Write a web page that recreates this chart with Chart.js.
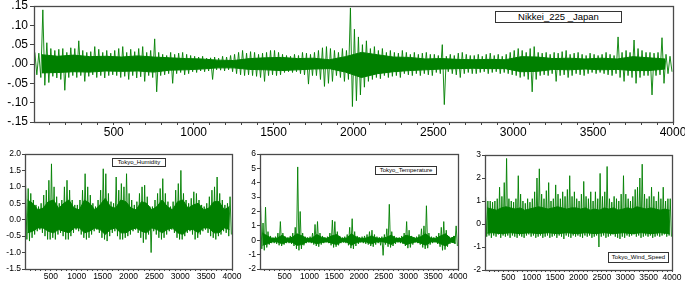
<!DOCTYPE html>
<html><head><meta charset="utf-8">
<script src="https://cdn.jsdelivr.net/npm/chart.js@4.4.1/dist/chart.umd.min.js"></script>
<style>
html,body{margin:0;padding:0;background:#fff;overflow:hidden;width:685px;height:283px;position:relative;}
canvas{position:absolute;}
.lg{position:absolute;border:1px solid #333;background:#fff;font-family:"Liberation Sans",Arial,sans-serif;color:#000;text-align:center;box-sizing:border-box;white-space:pre;}
</style></head><body>
<canvas id="c0" width="690" height="140" style="left:0;top:0"></canvas>
<canvas id="c1" width="250" height="138" style="left:0;top:145px"></canvas>
<canvas id="c2" width="240" height="138" style="left:236px;top:145px"></canvas>
<canvas id="c3" width="228" height="138" style="left:462px;top:145px"></canvas>
<div class="lg" style="left:495px;top:11px;width:127px;height:12px;font-size:9.5px;line-height:10px">Nikkei_225 _Japan</div>
<div class="lg" style="left:112px;top:158px;width:54px;height:9px;font-size:6px;line-height:7px">Tokyo_Humidity</div>
<div class="lg" style="left:375px;top:166px;width:62px;height:9px;font-size:6px;line-height:7px">Tokyo_Temperature</div>
<div class="lg" style="left:608px;top:252px;width:61px;height:11px;font-size:6px;line-height:9px">Tokyo_Wind_Speed</div>
<script>
// ---- data: per-bin high / low envelope (outer spikes) ----
const nikkeiBin = 25;
const nikkeiHi = [
0.030,0.028,0.140,0.055,0.040,0.035,0.038,0.040,0.030,0.042,
0.040,0.060,0.035,0.030,0.032,0.045,0.038,0.030,0.035,0.028,
0.035,0.040,0.045,0.030,0.038,0.032,0.040,0.045,0.030,0.035,
0.065,0.030,0.025,0.022,0.030,0.025,0.028,0.030,0.025,0.022,
0.020,0.018,0.020,0.015,0.016,0.018,0.015,0.020,0.018,0.022,
0.025,0.030,0.035,0.028,0.032,0.030,0.025,0.028,0.030,0.035,
0.035,0.030,0.025,0.022,0.020,0.025,0.022,0.030,0.028,0.025,
0.030,0.035,0.042,0.045,0.040,0.035,0.030,0.040,0.035,0.145,
0.090,0.070,0.050,0.060,0.040,0.045,0.035,0.040,0.030,0.035,
0.030,0.028,0.035,0.030,0.025,0.030,0.025,0.028,0.030,0.025,
0.025,0.022,0.050,0.020,0.025,0.022,0.028,0.030,0.025,0.022,
0.022,0.025,0.020,0.025,0.028,0.022,0.025,0.020,0.025,0.030,
0.035,0.040,0.035,0.030,0.040,0.045,0.030,0.028,0.030,0.025,
0.030,0.028,0.032,0.035,0.025,0.028,0.030,0.025,0.022,0.028,
0.025,0.022,0.025,0.030,0.025,0.022,0.070,0.030,0.035,0.030,
0.062,0.040,0.035,0.030,0.030,0.028,0.030,0.068,0.025,0.020];
const nikkeiLo = [
-0.028,-0.035,-0.055,-0.048,-0.032,-0.036,-0.040,-0.068,-0.035,-0.030,
-0.035,-0.030,-0.045,-0.032,-0.028,-0.035,-0.030,-0.036,-0.030,-0.028,
-0.030,-0.035,-0.032,-0.040,-0.030,-0.036,-0.033,-0.045,-0.030,-0.035,
-0.072,-0.030,-0.028,-0.025,-0.050,-0.025,-0.022,-0.028,-0.025,-0.020,
-0.022,-0.018,-0.020,-0.018,-0.040,-0.015,-0.016,-0.018,-0.015,-0.020,
-0.025,-0.028,-0.030,-0.028,-0.030,-0.032,-0.035,-0.045,-0.030,-0.028,
-0.030,-0.028,-0.022,-0.020,-0.022,-0.020,-0.025,-0.028,-0.052,-0.030,
-0.030,-0.040,-0.058,-0.050,-0.045,-0.030,-0.035,-0.045,-0.040,-0.110,
-0.095,-0.080,-0.060,-0.045,-0.040,-0.035,-0.038,-0.030,-0.035,-0.032,
-0.030,-0.035,-0.025,-0.028,-0.030,-0.025,-0.030,-0.025,-0.028,-0.030,
-0.022,-0.025,-0.105,-0.020,-0.025,-0.028,-0.035,-0.025,-0.022,-0.025,
-0.025,-0.022,-0.020,-0.025,-0.022,-0.020,-0.025,-0.022,-0.025,-0.028,
-0.030,-0.035,-0.032,-0.040,-0.072,-0.040,-0.030,-0.028,-0.030,-0.025,
-0.045,-0.030,-0.028,-0.035,-0.030,-0.025,-0.028,-0.030,-0.025,-0.022,
-0.025,-0.022,-0.025,-0.028,-0.030,-0.025,-0.035,-0.045,-0.030,-0.035,
-0.050,-0.035,-0.030,-0.030,-0.080,-0.030,-0.028,-0.050,-0.025,-0.020];
// dense core band, 100-unit bins
const coreBin = 100;
const nikkeiCoreHi = [
0.024,0.020,0.023,0.019,0.020,0.018,0.021,0.018,0.016,0.014,
0.013,0.010,0.009,0.014,0.016,0.017,0.014,0.015,0.011,0.019,
0.030,0.024,0.018,0.017,0.013,0.014,0.012,0.011,0.012,0.011,
0.019,0.018,0.014,0.015,0.013,0.015,0.013,0.019,0.016,0.013];
const nikkeiCoreLo = [
-0.023,-0.022,-0.020,-0.021,-0.018,-0.019,-0.018,-0.021,-0.016,-0.015,
-0.013,-0.010,-0.010,-0.014,-0.015,-0.017,-0.015,-0.013,-0.012,-0.021,
-0.035,-0.025,-0.020,-0.017,-0.015,-0.013,-0.012,-0.011,-0.012,-0.012,
-0.020,-0.019,-0.014,-0.015,-0.013,-0.015,-0.014,-0.017,-0.017,-0.013];

const tokyoBin = 50;
const humidHi = [
1.05,0.95,0.8,0.6,0.45,0.4,0.5,0.75,0.9,1.2,
1.7,1.0,0.7,0.5,0.6,1.0,1.2,0.9,0.6,0.45,
0.45,0.6,0.9,1.4,1.0,0.75,0.5,0.4,0.6,0.9,
1.55,1.4,0.8,0.55,0.5,1.3,0.9,1.1,1.0,1.4,
0.8,0.6,0.45,0.55,0.8,1.0,1.05,0.7,0.4,0.4,
0.6,0.8,0.95,1.25,0.8,0.55,0.4,0.55,0.9,1.1,
1.5,0.8,0.6,0.5,0.65,0.85,0.8,0.6,0.45,0.4,
0.5,0.7,0.9,1.0,1.3,0.8,0.6,0.45,0.5,0.7];
const humidLo = [
-0.6,-0.65,-0.55,-0.45,-0.35,-0.3,-0.4,-0.5,-0.6,-0.6,
-0.55,-0.6,-0.45,-0.4,-0.5,-0.6,-0.6,-0.5,-0.4,-0.3,
-0.35,-0.45,-0.55,-0.6,-0.55,-0.45,-0.35,-0.3,-0.4,-0.55,
-0.6,-0.65,-0.5,-0.4,-0.35,-0.5,-0.6,-0.6,-0.55,-0.5,
-0.45,-0.35,-0.3,-0.4,-0.55,-0.7,-0.6,-0.45,-1.0,-0.35,
-0.45,-0.55,-0.6,-0.55,-0.45,-0.35,-0.3,-0.4,-0.55,-0.6,
-0.6,-0.5,-0.4,-0.35,-0.45,-0.6,-0.55,-0.45,-0.35,-0.3,
-0.4,-0.5,-0.55,-0.6,-0.5,-0.45,-0.35,-0.4,-0.5,-0.45];
const humidCoreHi = [
0.6,0.5,0.3,0.35,0.55,0.6,0.35,0.5,0.6,0.35,
0.3,0.6,0.5,0.3,0.45,0.65,0.4,0.35,0.6,0.55,
0.35,0.3,0.55,0.5,0.3,0.4,0.6,0.4,0.3,0.55,
0.6,0.35,0.45,0.5,0.3,0.35,0.55,0.55,0.3,0.4];
const humidCoreLo = [
-0.4,-0.35,-0.25,-0.25,-0.35,-0.4,-0.3,-0.35,-0.4,-0.25,
-0.25,-0.4,-0.35,-0.25,-0.3,-0.45,-0.3,-0.25,-0.4,-0.4,
-0.3,-0.25,-0.35,-0.4,-0.25,-0.3,-0.4,-0.3,-0.25,-0.4,
-0.45,-0.3,-0.3,-0.4,-0.25,-0.25,-0.4,-0.4,-0.25,-0.3];

const tempHi = [
2.4,1.2,2.3,0.6,0.3,0.2,0.25,0.5,1.3,0.5,
0.25,0.2,0.3,0.5,0.9,5.1,2.0,0.5,0.25,0.2,
0.25,0.5,1.1,1.3,0.5,0.3,0.2,0.25,0.5,1.4,
1.3,0.6,0.3,0.2,0.25,0.4,0.9,1.5,0.6,0.3,
0.2,0.25,0.3,0.4,0.6,0.7,0.4,0.25,0.2,0.25,
0.4,0.8,2.5,0.6,0.3,0.2,0.2,0.3,0.5,1.3,
0.7,0.3,0.2,0.25,0.4,0.8,1.0,2.4,0.5,0.25,
0.2,0.3,0.5,0.9,1.3,0.7,0.3,0.2,0.3,1.0];
const tempLo = [
-0.6,-0.7,-0.5,-0.3,-0.2,-0.2,-0.25,-0.35,-0.4,-0.3,
-0.2,-0.2,-0.25,-0.4,-0.6,-0.7,-0.6,-0.35,-0.2,-0.15,
-0.2,-0.3,-0.4,-0.45,-0.3,-0.2,-0.15,-0.2,-0.35,-0.5,
-0.45,-0.35,-0.2,-0.15,-0.2,-0.35,-0.55,-0.6,-0.4,-0.25,
-0.15,-0.2,-0.25,-0.3,-0.4,-0.45,-0.3,-0.2,-0.35,-1.05,
-0.3,-0.45,-0.5,-0.4,-0.25,-0.15,-0.2,-0.25,-0.4,-0.55,
-0.5,-0.3,-0.15,-0.2,-0.3,-0.5,-0.6,-0.55,-0.3,-0.2,
-0.15,-0.25,-0.45,-0.7,-0.65,-0.45,-0.25,-0.15,-0.25,-0.4];
const tempCoreHi = [
0.5,0.3,0.12,0.15,0.35,0.12,0.2,0.45,0.3,0.12,
0.15,0.4,0.2,0.12,0.3,0.4,0.12,0.15,0.45,0.2,
0.12,0.15,0.3,0.15,0.12,0.2,0.35,0.12,0.12,0.35,
0.25,0.12,0.25,0.45,0.15,0.12,0.3,0.45,0.12,0.3];
const tempCoreLo = [
-0.35,-0.25,-0.1,-0.12,-0.25,-0.1,-0.15,-0.35,-0.3,-0.1,
-0.12,-0.25,-0.15,-0.1,-0.2,-0.3,-0.1,-0.12,-0.35,-0.15,
-0.1,-0.12,-0.25,-0.12,-0.1,-0.15,-0.3,-0.1,-0.1,-0.3,
-0.2,-0.1,-0.2,-0.35,-0.12,-0.1,-0.25,-0.4,-0.12,-0.2];

const windHi = [
1.2,1.0,1.0,0.95,1.0,1.1,1.6,1.2,1.8,2.85,
1.1,1.0,0.95,1.1,2.1,1.3,1.0,0.9,1.1,0.95,
1.1,1.4,2.0,2.4,1.3,1.1,1.45,1.8,1.0,1.1,
1.7,1.3,1.1,1.4,1.2,1.5,2.1,1.2,1.4,1.1,
1.0,1.3,1.85,1.2,1.1,1.4,1.0,1.4,1.1,2.2,
1.2,1.4,2.5,1.1,0.95,1.2,1.1,1.0,1.3,2.1,
1.3,1.1,1.0,1.2,1.5,1.6,2.0,2.6,1.3,1.1,
1.2,1.6,1.2,1.0,1.4,1.1,1.6,1.0,1.1,1.1];
const windLo = [
-0.55,-0.5,-0.6,-0.5,-0.55,-0.45,-0.6,-0.5,-0.55,-0.5,
-0.6,-0.5,-0.55,-0.6,-0.5,-0.55,-0.6,-0.5,-0.45,-0.55,
-0.5,-0.6,-0.55,-0.5,-0.6,-0.55,-0.5,-0.6,-0.55,-0.5,
-0.6,-0.5,-0.55,-0.65,-0.5,-0.55,-0.6,-0.5,-0.55,-0.5,
-0.55,-0.6,-0.5,-0.55,-0.5,-0.6,-0.55,-0.5,-1.0,-0.55,
-0.5,-0.6,-0.55,-0.5,-0.45,-0.55,-0.6,-0.65,-0.55,-0.6,
-0.5,-0.55,-0.5,-0.45,-0.55,-0.5,-0.6,-0.55,-0.5,-0.55,
-0.5,-0.6,-0.55,-0.5,-0.55,-0.5,-0.45,-0.55,-0.5,-0.55];
const windCoreHi = [
0.7,0.65,0.6,0.7,0.75,0.7,0.65,0.7,0.6,0.65,
0.7,0.75,0.7,0.65,0.7,0.75,0.7,0.65,0.7,0.7,
0.65,0.7,0.6,0.65,0.6,0.7,0.65,0.7,0.6,0.65,
0.7,0.65,0.75,0.7,0.65,0.7,0.65,0.6,0.65,0.6];
const windCoreLo = [
-0.4,-0.38,-0.4,-0.42,-0.4,-0.38,-0.4,-0.42,-0.4,-0.38,
-0.4,-0.42,-0.4,-0.38,-0.4,-0.42,-0.4,-0.38,-0.4,-0.42,
-0.4,-0.38,-0.4,-0.42,-0.4,-0.38,-0.4,-0.42,-0.4,-0.38,
-0.4,-0.42,-0.4,-0.38,-0.4,-0.42,-0.4,-0.38,-0.4,-0.42];

// ---- tick labels ----
const xTickValues = [500,1000,1500,2000,2500,3000,3500,4000];
const xTickLabels = ['500','1000','1500','2000','2500','3000','3500','4000'];
const nikkeiYValues = [-0.15,-0.10,-0.05,0,0.05,0.10,0.15];
const nikkeiYLabels = ['-.15','-.10','-.05','.00','.05','.10','.15'];
const humidYValues = [-1.5,-1.0,-0.5,0,0.5,1.0,1.5,2.0];
const humidYLabels = ['-1.5','-1.0','-0.5','0.0','0.5','1.0','1.5','2.0'];
const tempYValues = [-2,-1,0,1,2,3,4,5,6];
const tempYLabels = ['-2','-1','0','1','2','3','4','5','6'];
const windYValues = [-2,-1,0,1,2,3];
const windYLabels = ['-2','-1','0','1','2','3'];

const FONT = '"Liberation Sans", Arial, sans-serif';
const GREEN = '#008000';

function zig(hi, lo, bw){
  const pts = [];
  for(let i=0;i<hi.length;i++){
    pts.push({x: i*bw + bw*0.25, y: hi[i]});
    pts.push({x: i*bw + bw*0.75, y: lo[i]});
  }
  return pts;
}
function band(arr, bw){
  return arr.map((v,i)=>({x: i*bw + bw/2, y: v}));
}

const frame = {id:'frame', afterDraw(c){
  const a=c.chartArea, ctx=c.ctx;
  ctx.save(); ctx.strokeStyle='#4a4a4a'; ctx.lineWidth=1.3;
  ctx.strokeRect(Math.round(a.left)+0.5, Math.round(a.top)+0.5, Math.round(a.right-a.left), Math.round(a.bottom-a.top));
  ctx.restore();
}};

function mk(id, hi, lo, bw, cHi, cLo, o){
  const minorTicks = [];
  for(let v=100; v<=4000; v+=100) minorTicks.push(v);
  return new Chart(document.getElementById(id), {
    type:'line',
    data:{datasets:[
      {data:band(cHi, coreBin), borderColor:GREEN, borderWidth:1, backgroundColor:GREEN, pointRadius:0, tension:0, fill:'+1'},
      {data:band(cLo, coreBin), borderColor:GREEN, borderWidth:1, pointRadius:0, tension:0, fill:false},
      {data:zig(hi, lo, bw), borderColor:GREEN, borderWidth:0.9, pointRadius:0, tension:0, fill:false}
    ]},
    options:{
      responsive:false, animation:false, events:[],
      layout:{padding:{left:0, top:o.padTop, right:o.padRight, bottom:0}},
      plugins:{legend:{display:false}, tooltip:{enabled:false}},
      scales:{
        x:{type:'linear', min:1, max:4000,
          afterBuildTicks(s){ s.ticks = minorTicks.map(v=>({value:v})); },
          ticks:{autoSkip:false, maxRotation:0, minRotation:0, color:'#000', padding:o.xPad,
            font:{family:FONT, size:o.font},
            callback(v){ const i=xTickValues.indexOf(v); return i>=0 ? xTickLabels[i] : ''; }},
          grid:{drawOnChartArea:false, drawTicks:true, tickLength:o.xTick, tickColor:'#444', tickWidth:1},
          border:{display:false},
          afterFit(s){ s.height=o.xH; s.paddingLeft=0; s.paddingRight=0; }
        },
        y:{type:'linear', min:o.yVals[0], max:o.yVals[o.yVals.length-1],
          afterBuildTicks(s){ s.ticks = o.yVals.map(v=>({value:v})); },
          ticks:{color:'#000', padding:o.yPad, font:{family:FONT, size:o.font},
            callback(v,i){ return o.yLabs[i]; }},
          grid:{drawOnChartArea:false, drawTicks:true, tickLength:o.yTick, tickColor:'#444', tickWidth:1},
          border:{display:false},
          afterFit(s){ s.width=o.yW; s.paddingTop=0; s.paddingBottom=0; }
        }
      }
    },
    plugins:[frame]
  });
}

mk('c0', nikkeiHi, nikkeiLo, nikkeiBin, nikkeiCoreHi, nikkeiCoreLo, {padTop:6, padRight:17, xH:18, yW:34, font:12, xPad:0, yPad:2, xTick:3, yTick:4, yVals:nikkeiYValues, yLabs:nikkeiYLabels});
mk('c1', humidHi, humidLo, tokyoBin, humidCoreHi, humidCoreLo, {padTop:9, padRight:18, xH:14, yW:25, font:8.5, xPad:1, yPad:1, xTick:2, yTick:3, yVals:humidYValues, yLabs:humidYLabels});
mk('c2', tempHi, tempLo, tokyoBin, tempCoreHi, tempCoreLo, {padTop:9, padRight:18, xH:14, yW:24, font:8.5, xPad:1, yPad:1, xTick:2, yTick:3, yVals:tempYValues, yLabs:tempYLabels});
mk('c3', windHi, windLo, tokyoBin, windCoreHi, windCoreLo, {padTop:10, padRight:18, xH:13, yW:23, font:8.5, xPad:1, yPad:1, xTick:2, yTick:3, yVals:windYValues, yLabs:windYLabels});
</script>
</body></html>
